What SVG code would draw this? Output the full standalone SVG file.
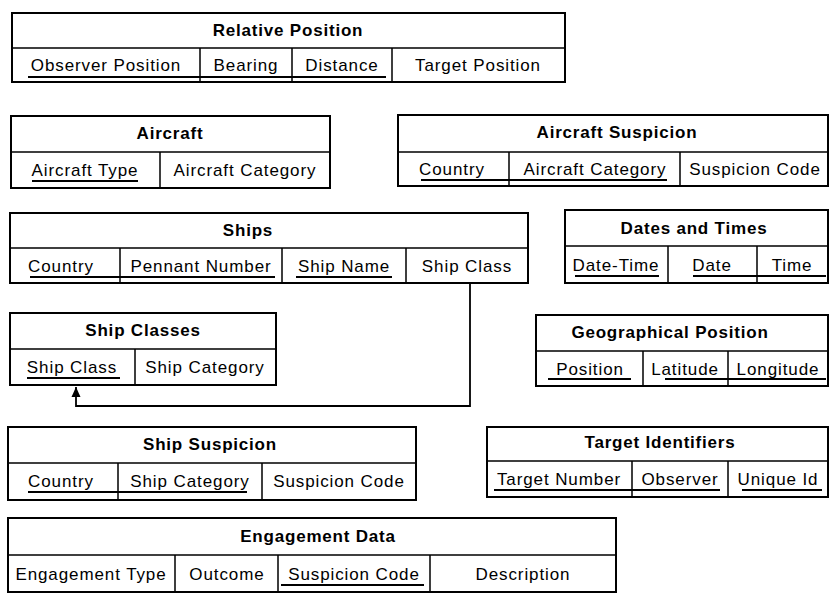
<svg xmlns="http://www.w3.org/2000/svg" width="830" height="600" viewBox="0 0 830 600">
<defs>
<style>
.box{fill:#fff;stroke:#000;stroke-width:2}
.div{stroke:#000;stroke-width:1.5;fill:none}
.key{stroke:#000;stroke-width:2;fill:none}
.t{font-family:"Liberation Sans",Arial,sans-serif;font-weight:bold;font-size:17px;letter-spacing:0.8px;text-anchor:middle;fill:#000}
.f{font-family:"Liberation Sans",Arial,sans-serif;font-size:17px;letter-spacing:0.9px;text-anchor:middle;fill:#000}
.conn{stroke:#000;stroke-width:1.8;fill:none}
</style>
<marker id="arr" markerWidth="12" markerHeight="12" refX="10" refY="5.5" orient="auto" markerUnits="userSpaceOnUse">
<path d="M0,1 L10,5.5 L0,10 Z" fill="#000"/>
</marker>
</defs>
<rect width="830" height="600" fill="#fff"/>

<g id="relative-position">
<rect class="box" x="12" y="13" width="553" height="69"/>
<path class="div" d="M12,48H565M200,48V82M292,48V82M392,48V82"/>
<text class="t" x="288" y="36">Relative Position</text>
<text class="f" x="106" y="71">Observer Position</text>
<text class="f" x="246" y="71">Bearing</text>
<text class="f" x="342" y="71">Distance</text>
<text class="f" x="478" y="71">Target Position</text>
<path class="key" d="M28,77H386"/>
</g>

<g id="aircraft">
<rect class="box" x="11" y="116" width="319" height="72"/>
<path class="div" d="M11,152H330M160,152V188"/>
<text class="t" x="170" y="139">Aircraft</text>
<text class="f" x="85" y="176">Aircraft Type</text>
<text class="f" x="245" y="176">Aircraft Category</text>
<path class="key" d="M32,181H138"/>
</g>

<g id="aircraft-suspicion">
<rect class="box" x="398" y="115" width="430" height="71"/>
<path class="div" d="M398,152H828M509,152V186M680,152V186"/>
<text class="t" x="617" y="138">Aircraft Suspicion</text>
<text class="f" x="452" y="175">Country</text>
<text class="f" x="595" y="175">Aircraft Category</text>
<text class="f" x="755" y="175">Suspicion Code</text>
<path class="key" d="M421,180H667"/>
</g>

<g id="ships">
<rect class="box" x="10" y="213" width="518" height="70"/>
<path class="div" d="M10,248H528M120,248V283M282,248V283M406,248V283"/>
<text class="t" x="248" y="236">Ships</text>
<text class="f" x="61" y="272">Country</text>
<text class="f" x="201" y="272">Pennant Number</text>
<text class="f" x="344" y="272">Ship Name</text>
<text class="f" x="467" y="272">Ship Class</text>
<path class="key" d="M30,277H275M296,277H392"/>
</g>

<g id="dates-and-times">
<rect class="box" x="565" y="210" width="263" height="73"/>
<path class="div" d="M565,246H828M668,246V283M757,246V283"/>
<text class="t" x="694" y="234">Dates and Times</text>
<text class="f" x="616" y="271">Date-Time</text>
<text class="f" x="712" y="271">Date</text>
<text class="f" x="792" y="271">Time</text>
<path class="key" d="M575,276H659M693,276H826"/>
</g>

<g id="ship-classes">
<rect class="box" x="10" y="313" width="266" height="72"/>
<path class="div" d="M10,349H276M135,349V385"/>
<text class="t" x="143" y="336">Ship Classes</text>
<text class="f" x="72" y="373">Ship Class</text>
<text class="f" x="205" y="373">Ship Category</text>
<path class="key" d="M27,378H120"/>
</g>

<g id="geographical-position">
<rect class="box" x="536" y="315" width="292" height="71"/>
<path class="div" d="M536,351H828M643,351V386M728,351V386"/>
<text class="t" x="670" y="338">Geographical Position</text>
<text class="f" x="590" y="375">Position</text>
<text class="f" x="685" y="375">Latitude</text>
<text class="f" x="778" y="375">Longitude</text>
<path class="key" d="M548,379H631M665,379H826"/>
</g>

<g id="ship-suspicion">
<rect class="box" x="8" y="427" width="408" height="73"/>
<path class="div" d="M8,463H416M118,463V500M262,463V500"/>
<text class="t" x="210" y="450">Ship Suspicion</text>
<text class="f" x="61" y="487">Country</text>
<text class="f" x="190" y="487">Ship Category</text>
<text class="f" x="339" y="487">Suspicion Code</text>
<path class="key" d="M28,492H247"/>
</g>

<g id="target-identifiers">
<rect class="box" x="487" y="427" width="341" height="70"/>
<path class="div" d="M487,461H828M632,461V497M728,461V497"/>
<text class="t" x="660" y="448">Target Identifiers</text>
<text class="f" x="559" y="485">Target Number</text>
<text class="f" x="680" y="485">Observer</text>
<text class="f" x="778" y="485">Unique Id</text>
<path class="key" d="M494,490H720M742,490H822"/>
</g>

<g id="engagement-data">
<rect class="box" x="8" y="518" width="608" height="74"/>
<path class="div" d="M8,555H616M175,555V592M278,555V592M430,555V592"/>
<text class="t" x="318" y="542">Engagement Data</text>
<text class="f" x="91" y="580">Engagement Type</text>
<text class="f" x="227" y="580">Outcome</text>
<text class="f" x="354" y="580">Suspicion Code</text>
<text class="f" x="523" y="580">Description</text>
<path class="key" d="M281,585H424"/>
</g>

<g id="connectors">
<path class="conn" d="M470,283V406H76V387" marker-end="url(#arr)"/>
</g>
</svg>
